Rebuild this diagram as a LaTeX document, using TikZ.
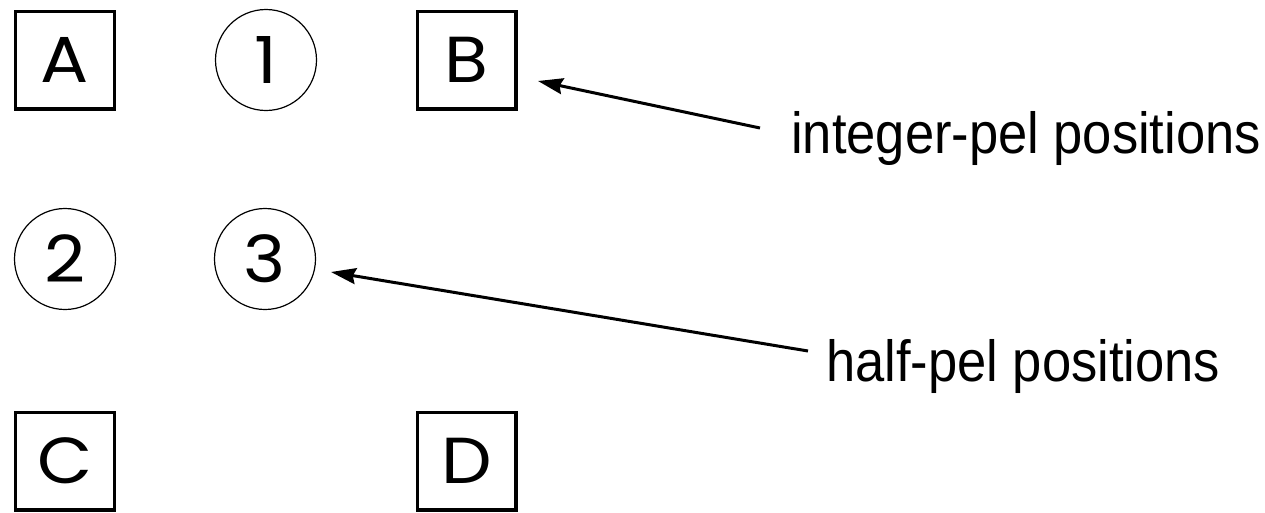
\documentclass[tikz,border=0pt]{standalone}
\usepackage{fontspec}
\setmainfont{Liberation Sans}
\newfontfamily\geofont{Poppins}
\usetikzlibrary{arrows.meta}
\newcommand{\geolabel}[1]{\scalebox{1.1}[1]{#1}}
\begin{document}
\begin{tikzpicture}[x=1pt,y=-1pt,
  intpel/.style={draw, line width=3.4pt, minimum width=98.6pt, minimum height=97.6pt, inner sep=0pt,
    font=\geofont\fontsize{65}{65}\selectfont},
  halfpel/.style={draw, circle, line width=1.2pt, minimum size=101pt, inner sep=0pt,
    font=\geofont\fontsize{65}{65}\selectfont},
  callout/.style={anchor=base west, inner sep=0pt, font=\fontsize{58}{58}\selectfont},
  pointer/.style={line width=3pt, -{Stealth[length=25pt,width=16pt,inset=3pt]}}]
\useasboundingbox (0,0) rectangle (1265,512);
\node[intpel] (A) at (65,60) {\geolabel{A}};
\node[halfpel] (h1) at (266,60) {\geolabel{1}};
\node[intpel] (B) at (466.5,60) {\geolabel{B}};
\node[halfpel] (h2) at (65,259) {\geolabel{2}};
\node[halfpel] (h3) at (265,259) {\geolabel{3}};
\node[intpel] (C) at (65,461) {\geolabel{C}};
\node[intpel] (D) at (466.5,461) {\geolabel{D}};
\node[callout] (t1) at (791,153) {\scalebox{0.905}[1]{integer-pel positions}};
\node[callout] (t2) at (826,381) {\scalebox{0.905}[1]{half-pel positions}};
\coordinate (tail1) at (760,128);
\coordinate (tip1) at (538,81);
\coordinate (tail2) at (808,351);
\coordinate (tip2) at (331,272);
\draw[pointer] (tail1) -- (tip1);
\draw[pointer] (tail2) -- (tip2);
\end{tikzpicture}
\end{document}
